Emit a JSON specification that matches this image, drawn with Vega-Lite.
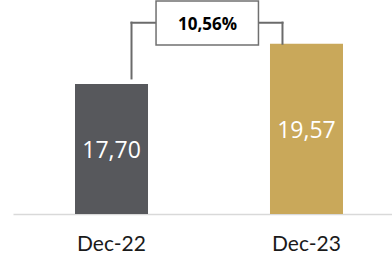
{
  "$schema": "https://vega.github.io/schema/vega-lite/v6.json",
  "width": 379,
  "height": 214,
  "autosize": {"type": "none"},
  "padding": {"left": 13, "top": 0, "right": 0, "bottom": 43},
  "config": {"view": {"stroke": null}},
  "datasets": {
    "bars": [
      {"period": "Dec-22", "value": 17.70, "label": "17,70"},
      {"period": "Dec-23", "value": 19.57, "label": "19,57"}
    ],
    "change": [
      {"from": "Dec-22", "to": "Dec-23", "change": "10,56%"}
    ]
  },
  "encoding": {
    "x": {
      "field": "period",
      "type": "nominal",
      "title": null,
      "scale": {"domain": ["Dec-22", "Dec-23"], "range": [0, 392], "paddingInner": 0.6256, "paddingOuter": 0.318},
      "axis": {"labelFont": "Lato", "labelFontSize": 21, "labelColor": "#1a1a1a", "ticks": false, "labelPadding": 19, "domainColor": "#d9d9d9", "domainWidth": 1.5, "labelAngle": 0, "grid": false}
    }
  },
  "layer": [
    {
      "layer": [
        {
          "data": {"name": "bars"},
          "mark": {"type": "bar", "clip": true},
          "encoding": {
            "y": {"field": "value", "type": "quantitative", "scale": {"domain": [11.67, 21.6], "zero": false, "nice": false}, "axis": null},
            "color": {"field": "period", "type": "nominal", "scale": {"domain": ["Dec-22", "Dec-23"], "range": ["#57585c", "#c9a85a"]}, "legend": null}
          }
        },
        {
          "data": {"name": "change"},
          "mark": {"type": "rule", "color": "#6b6b6b", "strokeWidth": 2, "strokeCap": "square"},
          "encoding": {
            "x": {"field": "from", "type": "nominal", "bandPosition": 0.774},
            "y": {"datum": 17.96, "type": "quantitative"},
            "y2": {"datum": 20.55}
          }
        },
        {
          "data": {"name": "change"},
          "mark": {"type": "rule", "color": "#6b6b6b", "strokeWidth": 2, "strokeCap": "square"},
          "encoding": {
            "x": {"field": "to", "type": "nominal", "bandPosition": 0.171},
            "y": {"datum": 19.57, "type": "quantitative"},
            "y2": {"datum": 20.55}
          }
        },
        {
          "data": {"name": "change"},
          "mark": {"type": "rule", "color": "#6b6b6b", "strokeWidth": 2, "strokeCap": "square"},
          "encoding": {
            "x": {"field": "from", "type": "nominal", "bandPosition": 0.774},
            "x2": {"field": "to", "bandPosition": 0.171},
            "y": {"datum": 20.55, "type": "quantitative"}
          }
        },
        {
          "data": {"name": "change"},
          "mark": {"type": "rect", "fill": "#ffffff", "stroke": "#707070", "strokeWidth": 1.5},
          "encoding": {
            "x": {"field": "from", "type": "nominal", "bandPosition": 1.11},
            "x2": {"field": "to", "bandPosition": -0.158},
            "y": {"datum": 19.51, "type": "quantitative"},
            "y2": {"datum": 21.55}
          }
        },
        {
          "data": {"name": "change"},
          "mark": {"type": "text", "font": "Open Sans", "fontSize": 17, "fontWeight": "bold", "color": "#000000", "baseline": "middle", "align": "center", "dy": 2},
          "encoding": {
            "x": {"field": "from", "type": "nominal", "bandPosition": 1.815},
            "y": {"datum": 20.55, "type": "quantitative"},
            "text": {"field": "change"}
          }
        }
      ]
    },
    {
      "data": {"name": "bars"},
      "mark": {"type": "text", "font": "Open Sans", "fontSize": 23, "color": "#ffffff", "baseline": "middle", "align": "center", "dy": 2},
      "encoding": {
        "y": {"field": "value", "type": "quantitative", "scale": {"domain": [11.67, 31.53], "zero": false, "nice": false}, "axis": null},
        "text": {"field": "label"}
      }
    }
  ],
  "resolve": {"scale": {"y": "independent"}}
}
